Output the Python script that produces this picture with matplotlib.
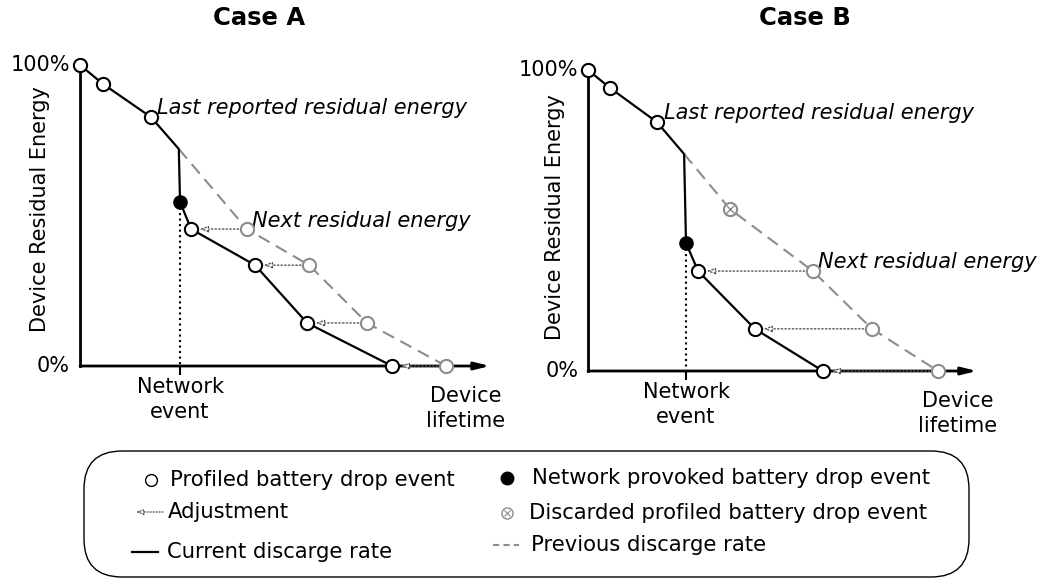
import matplotlib
matplotlib.use("Agg")
import matplotlib.pyplot as plt
from matplotlib.patches import FancyBboxPatch

plt.rcParams['font.family'] = ['DejaVu Sans']

# ---------------- data (x: device lifetime 0-100, y: residual energy %) ----------------
A_profiled_x = [0, 5.6, 17.3, 27.1, 42.7, 55.4, 76.1]
A_profiled_y = [100, 93.7, 82.7, 45.5, 33.5, 14.3, 0]
A_kink = (24.1, 72.1)
A_network = (24.4, 54.5)
A_prev_x = [24.1, 40.7, 55.9, 70.0, 89.3]
A_prev_y = [72.1, 45.5, 33.5, 14.3, 0]

B_profiled_x = [0, 5.7, 17.7, 28.3, 42.9, 60.4]
B_profiled_y = [100, 94.0, 82.7, 33.2, 14.0, 0]
B_kink = (24.7, 72.1)
B_network = (25.2, 42.5)
B_prev_x = [24.7, 36.5, 57.8, 73.0, 90.0]
B_prev_y = [72.1, 53.8, 33.2, 14.0, 0]
B_discarded_idx = 1

titles = ["Case A", "Case B"]
ytick_labels = ["0%", "100%"]

GREY = '#8c8c8c'
FS = 15

fig = plt.figure(figsize=(10.52, 5.83), dpi=100)
W, H = 1052, 583


def px_axes(left, right, top, bottom):
    return fig.add_axes([left / W, (H - bottom) / H, (right - left) / W, (bottom - top) / H])


def draw_case(ax, prof_x, prof_y, kink, net, prev_x, prev_y, n_before, discarded=None,
              ylab_pos=(-0.1, 0.52), last_pos=(19, 84), next_pos=(42, 46), next_first=1,
              life_x=94):
    ax.set_xlim(0, 100)
    ax.set_ylim(0, 100)
    ax.axis('off')
    # axes lines
    ax.plot([0, 0], [0, 100], color='black', lw=2, clip_on=False, zorder=2)
    ax.annotate('', xy=(100, 0), xytext=(0, 0), xycoords='data',
                arrowprops=dict(arrowstyle='-|>,head_length=0.9,head_width=0.22',
                                color='black', lw=2, shrinkA=0, shrinkB=0), zorder=2)
    # previous discharge rate
    ax.plot(prev_x, prev_y, color=GREY, lw=1.5, dashes=(6, 3.5), clip_on=False, zorder=3)
    # current discharge rate
    cx = prof_x[:n_before] + [kink[0], net[0]] + prof_x[n_before:]
    cy = prof_y[:n_before] + [kink[1], net[1]] + prof_y[n_before:]
    ax.plot(cx, cy, color='black', lw=1.6, clip_on=False, zorder=4)
    # network event dotted line + tick
    ax.plot([net[0], net[0]], [net[1], 0], color='black', lw=1.5, ls=':', clip_on=False, zorder=3)
    ax.plot([net[0], net[0]], [0, -2.5], color='black', lw=1.5, clip_on=False, zorder=3)
    # adjustments
    after_x = prof_x[n_before:]
    after_y = prof_y[n_before:]
    for gx, gy, bx, by in zip(prev_x[next_first:], prev_y[next_first:], after_x, after_y):
        ax.annotate('', xy=(bx, by), xytext=(gx, gy),
                    arrowprops=dict(arrowstyle='-|>,head_length=0.5,head_width=0.18',
                                    fc='white', ec='#555555', lw=1, ls=':',
                                    shrinkA=6, shrinkB=6), zorder=5)
    # grey previous circles
    for i, (gx, gy) in enumerate(zip(prev_x[1:], prev_y[1:]), start=1):
        ax.plot(gx, gy, 'o', ms=9.5, mfc='white', mec=GREY, mew=1.5, clip_on=False, zorder=6)
        if discarded is not None and i == discarded:
            ax.plot(gx, gy, 'x', ms=6, mec=GREY, mew=1, clip_on=False, zorder=7)
    # profiled circles
    ax.plot(prof_x, prof_y, 'o', ls='none', ms=9.5, mfc='white', mec='black', mew=1.5,
            clip_on=False, zorder=8)
    # network event
    ax.plot(net[0], net[1], 'o', ms=9.5, mfc='black', mec='black', clip_on=False, zorder=8)
    # texts
    ax.text(-2.5, 100, ytick_labels[1], ha='right', va='center', fontsize=FS)
    ax.text(-2.5, 0, ytick_labels[0], ha='right', va='center', fontsize=FS)
    ax.text(ylab_pos[0], ylab_pos[1], 'Device Residual Energy', rotation=90, ha='center',
            va='center', fontsize=FS, transform=ax.transAxes)
    ax.text(net[0], -3.5, 'Network\nevent', ha='center', va='top', fontsize=FS,
            linespacing=1.35)
    ax.text(life_x, -6.5, 'Device\nlifetime', ha='center', va='top', fontsize=FS,
            linespacing=1.35)
    ax.text(last_pos[0], last_pos[1], 'Last reported residual energy', fontsize=FS,
            style='italic', ha='left', va='bottom')
    ax.text(next_pos[0], next_pos[1], 'Next residual energy', fontsize=FS,
            style='italic', ha='left', va='bottom')


axA = px_axes(80, 490, 65, 366)
draw_case(axA, A_profiled_x, A_profiled_y, A_kink, A_network, A_prev_x, A_prev_y, 3,
          ylab_pos=(-0.098, 0.52), last_pos=(18.8, 82.5), next_pos=(42.0, 45.0))
axB = px_axes(588, 977, 70, 371)
draw_case(axB, B_profiled_x, B_profiled_y, B_kink, B_network, B_prev_x, B_prev_y, 3,
          discarded=B_discarded_idx, ylab_pos=(-0.085, 0.51), last_pos=(19.5, 82.5),
          next_pos=(59.0, 33.0), next_first=2, life_x=95)

fig.text(259.5 / W, 1 - 18 / H, titles[0], ha='center', va='center', fontsize=17.5,
         fontweight='bold')
fig.text(805 / W, 1 - 18 / H, titles[1], ha='center', va='center', fontsize=17.5,
         fontweight='bold')

# ---------------- legend box ----------------
L, R, T, B = 83, 970, 450, 578
lax = px_axes(L, R, T, B)
lax.set_xlim(L, R)
lax.set_ylim(B, T)
lax.axis('off')
box = FancyBboxPatch((L + 1, T + 1), R - L - 2, B - T - 2,
                     boxstyle='round,pad=0,rounding_size=38', fc='white', ec='black', lw=1)
lax.add_patch(box)
LFS = 15.25
lax.plot(151, 480, 'o', ms=8.5, mfc='white', mec='black', mew=1)
lax.text(170, 480, 'Profiled battery drop event', fontsize=LFS, va='center')
lax.annotate('', xy=(136, 512), xytext=(163, 512),
             arrowprops=dict(arrowstyle='-|>,head_length=0.45,head_width=0.16', fc='white',
                             ec='#333333', lw=0.8, ls=':', shrinkA=0, shrinkB=0))
lax.text(168, 512, 'Adjustment', fontsize=LFS, va='center')
lax.plot([132, 158], [552, 552], color='black', lw=1.6)
lax.text(167, 552, 'Current discarge rate', fontsize=LFS, va='center')
lax.plot(507, 478, 'o', ms=9, mfc='black', mec='black')
lax.text(532, 478, 'Network provoked battery drop event', fontsize=LFS, va='center')
lax.plot(507, 513, 'o', ms=8, mfc='white', mec=GREY, mew=1)
lax.plot(507, 513, 'x', ms=4.5, mec=GREY, mew=0.8)
lax.text(529, 513, 'Discarded profiled battery drop event', fontsize=LFS, va='center')
lax.plot([493, 519], [545, 545], color=GREY, lw=1.5, dashes=(3, 2))
lax.text(531, 545, 'Previous discarge rate', fontsize=LFS, va='center')

fig.savefig('out.png', dpi=100)
